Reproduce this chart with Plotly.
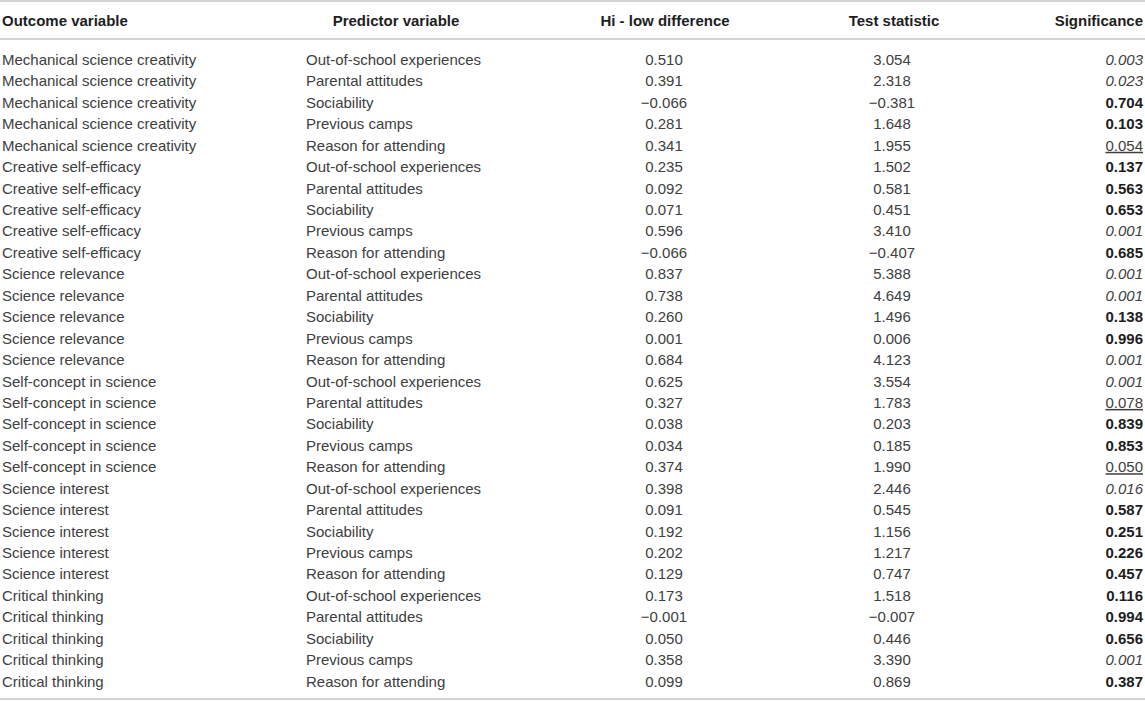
import plotly.graph_objects as go

outcomes = (["Mechanical science creativity"] * 5 + ["Creative self-efficacy"] * 5 +
            ["Science relevance"] * 5 + ["Self-concept in science"] * 5 +
            ["Science interest"] * 5 + ["Critical thinking"] * 5)
predictor_levels = ["Out-of-school experiences", "Parental attitudes", "Sociability",
                    "Previous camps", "Reason for attending"]
predictors = predictor_levels * 6
hi_low = [0.510, 0.391, -0.066, 0.281, 0.341,
          0.235, 0.092, 0.071, 0.596, -0.066,
          0.837, 0.738, 0.260, 0.001, 0.684,
          0.625, 0.327, 0.038, 0.034, 0.374,
          0.398, 0.091, 0.192, 0.202, 0.129,
          0.173, -0.001, 0.050, 0.358, 0.099]
test_stat = [3.054, 2.318, -0.381, 1.648, 1.955,
             1.502, 0.581, 0.451, 3.410, -0.407,
             5.388, 4.649, 1.496, 0.006, 4.123,
             3.554, 1.783, 0.203, 0.185, 1.990,
             2.446, 0.545, 1.156, 1.217, 0.747,
             1.518, -0.007, 0.446, 3.390, 0.869]
significance = [0.003, 0.023, 0.704, 0.103, 0.054,
                0.137, 0.563, 0.653, 0.001, 0.685,
                0.001, 0.001, 0.138, 0.996, 0.001,
                0.001, 0.078, 0.839, 0.853, 0.050,
                0.016, 0.587, 0.251, 0.226, 0.457,
                0.116, 0.994, 0.656, 0.001, 0.387]
headers = ["Outcome variable", "Predictor variable", "Hi - low difference",
           "Test statistic", "Significance"]

W, H = 1145, 701
FONT = "Liberation Sans, Arial, Helvetica, sans-serif"
BODY = "#404040"
HEAD = "#1e1e1e"
ROW0, ROWSTEP, HEADY = 61.3, 21.43, 22

def fmt(v):
    return f"{v:.3f}".replace("-", "\u2212")

def sig_fmt(p):
    s = f"{p:.3f}"
    if p < 0.05:
        return f"<i>{s}</i>"
    if p < 0.1:
        return f"<u>{s}</u>"
    return f"<b><span style='color:{HEAD}'>{s}</span></b>"

rows_y = [ROW0 + i * ROWSTEP for i in range(len(outcomes))]

fig = go.Figure()

def col(texts, x, pos, color=BODY):
    fig.add_trace(go.Scatter(
        x=[x] * len(texts), y=rows_y, mode="text", text=texts,
        textposition=pos, hoverinfo="skip", showlegend=False, cliponaxis=False,
        textfont=dict(family=FONT, size=15, color=color)))

col(outcomes, 2, "middle right")
col(predictors, 306, "middle right")
col([fmt(v) for v in hi_low], 664, "middle center")
col([fmt(v) for v in test_stat], 892, "middle center")
col([sig_fmt(p) for p in significance], 1143, "middle left")

# header
hx = [2, 396, 665, 894, 1143]
hpos = ["middle right", "middle center", "middle center", "middle center", "middle left"]
for t, x, p in zip(headers, hx, hpos):
    fig.add_trace(go.Scatter(
        x=[x], y=[HEADY], mode="text", text=[f"<b>{t}</b>"], textposition=p,
        hoverinfo="skip", showlegend=False, cliponaxis=False,
        textfont=dict(family=FONT, size=15, color=HEAD)))

for yl in [1, 39, 699]:
    fig.add_shape(type="line", x0=0, x1=W, y0=yl, y1=yl, xref="x", yref="y",
                  line=dict(color="#d3d3d3", width=2))

fig.update_layout(
    width=W, height=H, margin=dict(l=0, r=0, t=0, b=0),
    paper_bgcolor="white", plot_bgcolor="white",
    xaxis=dict(range=[0, W], visible=False, fixedrange=True),
    yaxis=dict(range=[H, 0], visible=False, fixedrange=True),
)
fig.write_html("out.html", config={"displayModeBar": False},
               post_script="document.body.style.margin='0';document.body.style.overflow='hidden';")
